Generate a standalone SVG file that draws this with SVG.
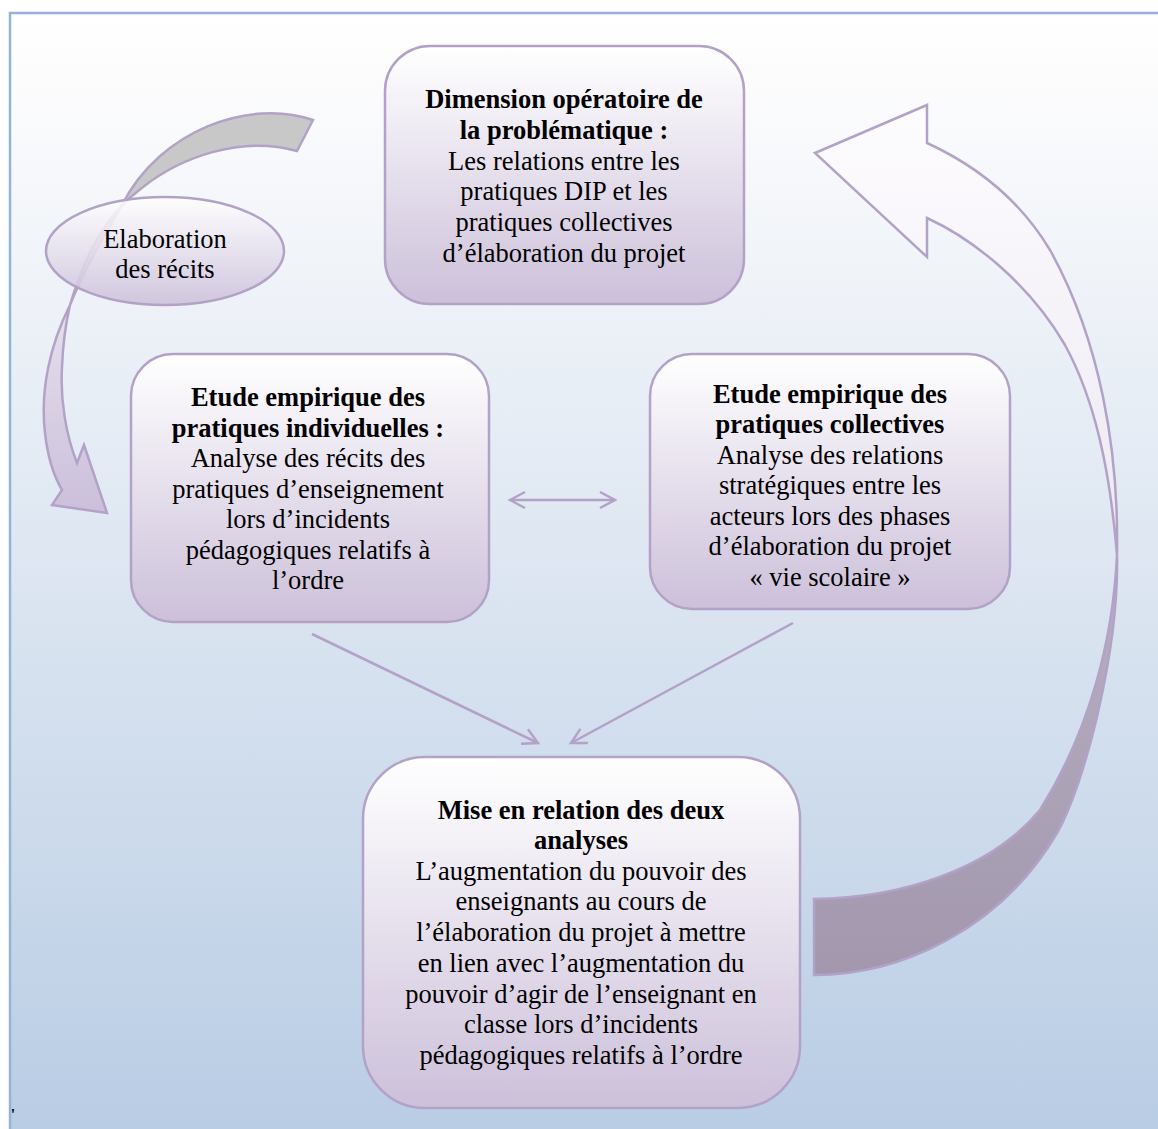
<svg xmlns="http://www.w3.org/2000/svg" width="1158" height="1129" viewBox="0 0 1158 1129">
  <defs>
    <linearGradient id="bg" x1="0" y1="0" x2="0" y2="1">
      <stop offset="0" stop-color="#ffffff"/>
      <stop offset="0.06" stop-color="#fcfcfd"/>
      <stop offset="1" stop-color="#b8cce4"/>
    </linearGradient>
    <linearGradient id="box" x1="0" y1="0" x2="0" y2="1">
      <stop offset="0" stop-color="#ffffff"/>
      <stop offset="1" stop-color="#ccc0da"/>
    </linearGradient>
    <linearGradient id="leftFront" x1="0" y1="0" x2="0" y2="1">
      <stop offset="0" stop-color="#e6e0ee"/>
      <stop offset="1" stop-color="#cbbfda"/>
    </linearGradient>
    <linearGradient id="rightFront" x1="0" y1="0" x2="0" y2="1">
      <stop offset="0" stop-color="#fdfcfe"/>
      <stop offset="1" stop-color="#ede8f2"/>
    </linearGradient>
    <linearGradient id="rightBack" x1="0" y1="0" x2="0" y2="1">
      <stop offset="0" stop-color="#b8b0c2"/>
      <stop offset="1" stop-color="#a297ad"/>
    </linearGradient>
    <marker id="open" viewBox="0 0 20 20" refX="17" refY="10" markerWidth="20" markerHeight="20" markerUnits="userSpaceOnUse" orient="auto-start-reverse">
      <path d="M2,2 L17,10 L2,18" fill="none" stroke="#b3a2c7" stroke-width="2.5"/>
    </marker>
  </defs>
  <style>
    .node { fill: url(#box); stroke: #b3a2c7; stroke-width: 2.5; }
    .shape { stroke: #b3a2c7; stroke-width: 2.5; }
    .conn { fill: none; stroke: #b3a2c7; stroke-width: 2.5; }
    .t { font-family: 'Liberation Serif', serif; font-size: 26.5px; fill: #000; text-anchor: middle; }
    .b { font-weight: bold; }
  </style>

  <rect x="10" y="13" width="1160" height="1130" fill="url(#bg)" stroke="#95b3d7" stroke-width="2.5"/>

  <g id="arrow-right">
    <path class="shape" fill="url(#rightBack)" d="M814,899 L814,975 C900,975 1000,930 1057,833 C1085,784 1119,650 1117,555 C1113,640 1090,730 1040,810 C990,870 900,898 814,899 Z"/>
    <path class="shape" fill="url(#rightFront)" d="M1117,555 C1119,450 1100,340 1050,250 C1020,200 975,165 927,143 L927,105 L815,153 L927,257 L927,218 C975,240 1030,285 1065,345 C1095,400 1110,470 1117,555 Z"/>
  </g>

  <g id="arrow-left">
    <path class="shape" fill="#c8c8c8" d="M313,120 C250,98 160,130 122,205 C98,245 80,280 70,305 C85,255 105,215 143,187 C180,158 240,135 297,151 Z"/>
    <path class="shape" fill="url(#leftFront)" d="M70,305 C50,345 40,390 45,433 C48,460 55,478 62,490 L52,505 L107,513 L84,445 L77,463 C66,435 60,400 62,367 C63,340 67,318 70,305 Z"/>
  </g>

  <g id="connectors">
    <line class="conn" x1="510" y1="500" x2="615" y2="500" marker-start="url(#open)" marker-end="url(#open)"/>
    <line class="conn" x1="312" y1="634" x2="538" y2="743" marker-end="url(#open)"/>
    <line class="conn" x1="793" y1="623" x2="571" y2="743" marker-end="url(#open)"/>
  </g>

  <g id="ellipse-recits">
    <ellipse cx="165" cy="251" rx="119" ry="54" fill="url(#box)" fill-opacity="0.88" stroke="#b3a2c7" stroke-width="2.5"/>
    <text class="t" x="165" y="248">Elaboration</text>
    <text class="t" x="165" y="278">des récits</text>
  </g>

  <g id="node-dimension">
    <rect class="node" x="385" y="46" width="359" height="258" rx="45"/>
    <text class="t b" x="564" y="108">Dimension opératoire de</text>
    <text class="t b" x="564" y="139">la problématique :</text>
    <text class="t" x="564" y="170">Les relations entre les</text>
    <text class="t" x="564" y="200">pratiques DIP et les</text>
    <text class="t" x="564" y="231">pratiques collectives</text>
    <text class="t" x="564" y="262">d’élaboration du projet</text>
  </g>

  <g id="node-individuelles">
    <rect class="node" x="131" y="354" width="358" height="268" rx="42"/>
    <text class="t b" x="308" y="406">Etude empirique des</text>
    <text class="t b" x="308" y="437">pratiques individuelles :</text>
    <text class="t" x="308" y="467">Analyse des récits des</text>
    <text class="t" x="308" y="498">pratiques d’enseignement</text>
    <text class="t" x="308" y="528">lors d’incidents</text>
    <text class="t" x="308" y="559">pédagogiques relatifs à</text>
    <text class="t" x="308" y="589">l’ordre</text>
  </g>

  <g id="node-collectives">
    <rect class="node" x="650" y="354" width="360" height="255" rx="42"/>
    <text class="t b" x="830" y="403">Etude empirique des</text>
    <text class="t b" x="830" y="433">pratiques collectives</text>
    <text class="t" x="830" y="464">Analyse des relations</text>
    <text class="t" x="830" y="494">stratégiques entre les</text>
    <text class="t" x="830" y="525">acteurs lors des phases</text>
    <text class="t" x="830" y="555">d’élaboration du projet</text>
    <text class="t" x="830" y="586">« vie scolaire »</text>
  </g>

  <g id="node-mise-en-relation">
    <rect class="node" x="363" y="757" width="437" height="351" rx="62"/>
    <text class="t b" x="581" y="819">Mise en relation des deux</text>
    <text class="t b" x="581" y="849">analyses</text>
    <text class="t" x="581" y="880">L’augmentation du pouvoir des</text>
    <text class="t" x="581" y="910">enseignants au cours de</text>
    <text class="t" x="581" y="941">l’élaboration du projet à mettre</text>
    <text class="t" x="581" y="972">en lien avec l’augmentation du</text>
    <text class="t" x="581" y="1003">pouvoir d’agir de l’enseignant en</text>
    <text class="t" x="581" y="1033">classe lors d’incidents</text>
    <text class="t" x="581" y="1064">pédagogiques relatifs à l’ordre</text>
  </g>

  <text class="t b" x="13" y="1120" style="font-size:16px">'</text>
</svg>
